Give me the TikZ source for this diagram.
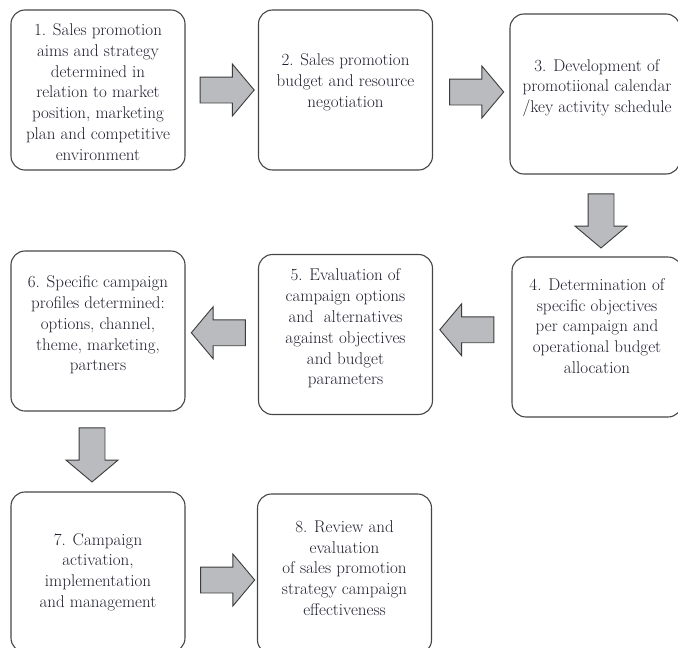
\documentclass[tikz,border=0pt]{standalone}
\usepackage{xcolor}
\usetikzlibrary{shapes.arrows}
\usetikzlibrary{calc}
\definecolor{boxline}{RGB}{70,70,70}
\definecolor{arrowfill}{RGB}{186,187,190}
\definecolor{arrowline}{RGB}{60,60,60}
\definecolor{inktext}{RGB}{30,30,45}

\tikzset{
  stagebox/.style={draw=boxline, line width=1.1pt, rounded corners=14pt,
    minimum width=174pt, minimum height=160pt, inner sep=0pt},
  stagetext/.style={align=center, text=inktext, inner sep=0pt,
    font=\fontsize{17}{20.8}\selectfont},
  blockarrow/.style={single arrow, draw=arrowline, fill=arrowfill, line width=0.9pt,
    minimum height=54pt, inner xsep=0pt, inner ysep=12.5pt,
    single arrow head extend=13pt, single arrow tip angle=100}
}

\begin{document}
\begin{tikzpicture}[x=1pt, y=-1pt]
      \useasboundingbox (0,0) rectangle (678,648);
      \clip (0,0) rectangle (678,648);

      % top row
      \node[stagebox] (b1) at (98,90) {};
      \node[stagebox] (b2) at (345.5,90) {};
      \node[stagebox, minimum width=170pt] (b3) at (595,94) {};
      \node[stagetext] (t1) at ($(b1)+(0,2)$) {1. Sales promotion\\aims and strategy\\determined in\\relation to market\\position, marketing\\plan and competitive\\environment};
      \node[stagetext] (t2) at ($(b2)+(0,-8)$) {2. Sales promotion\\budget and resource\\negotiation};
      \node[stagetext] (t3) at ($(b3)+(2,-6)$) {3. Development of\\promotiional calendar\\/key activity schedule};

      % middle row
      \node[stagebox, minimum width=170pt] (b4) at (597,337) {};
      \node[stagebox] (b5) at (345.5,334.5) {};
      \node[stagebox] (b6) at (98,331) {};
      \node[stagetext] (t4) at ($(b4)+(0,-11)$) {4. Determination of\\specific objectives\\per campaign and\\operational budget\\allocation};
      \node[stagetext] (t5) at ($(b5)+(0,-6)$) {5. Evaluation of\\campaign options\\and~~alternatives\\against objectives\\and budget\\parameters};
      \node[stagetext] (t6) at ($(b6)+(0,-6)$) {6. Specific campaign\\profiles determined:\\options, channel,\\theme, marketing,\\partners};

      % bottom row
      \node[stagebox] (b7) at (98,572) {};
      \node[stagebox] (b8) at (344.5,574) {};
      \node[stagetext] (t7) at ($(b7)+(0,0)$) {7. Campaign\\activation,\\implementation\\and management};
      \node[stagetext] (t8) at ($(b8)+(0,-6)$) {8. Review and\\evaluation\\of sales promotion\\strategy campaign\\effectiveness};

      % block arrows
      \node[blockarrow] (a12) at ($(b1.east)!0.5!(b2.west)$) {};
      \node[blockarrow] (a23) at ($(b2.east)!0.5!(b3.west)$) {};
      \node[blockarrow, rotate=-90] (a34) at ($(b3.south)!0.5!(b4.north)+(5,0)$) {};
      \node[blockarrow, rotate=180] (a45) at ($(b4.west)!0.5!(b5.east)+(0,-6)$) {};
      \node[blockarrow, rotate=180] (a56) at ($(b5.west)!0.5!(b6.east)+(2,0)$) {};
      \node[blockarrow, rotate=-90] (a67) at ($(b6.south)!0.5!(b7.north)+(-6,-2)$) {};
      \node[blockarrow] (a78) at ($(b7.east)!0.5!(b8.west)+(1,7)$) {};
\end{tikzpicture}
\end{document}
